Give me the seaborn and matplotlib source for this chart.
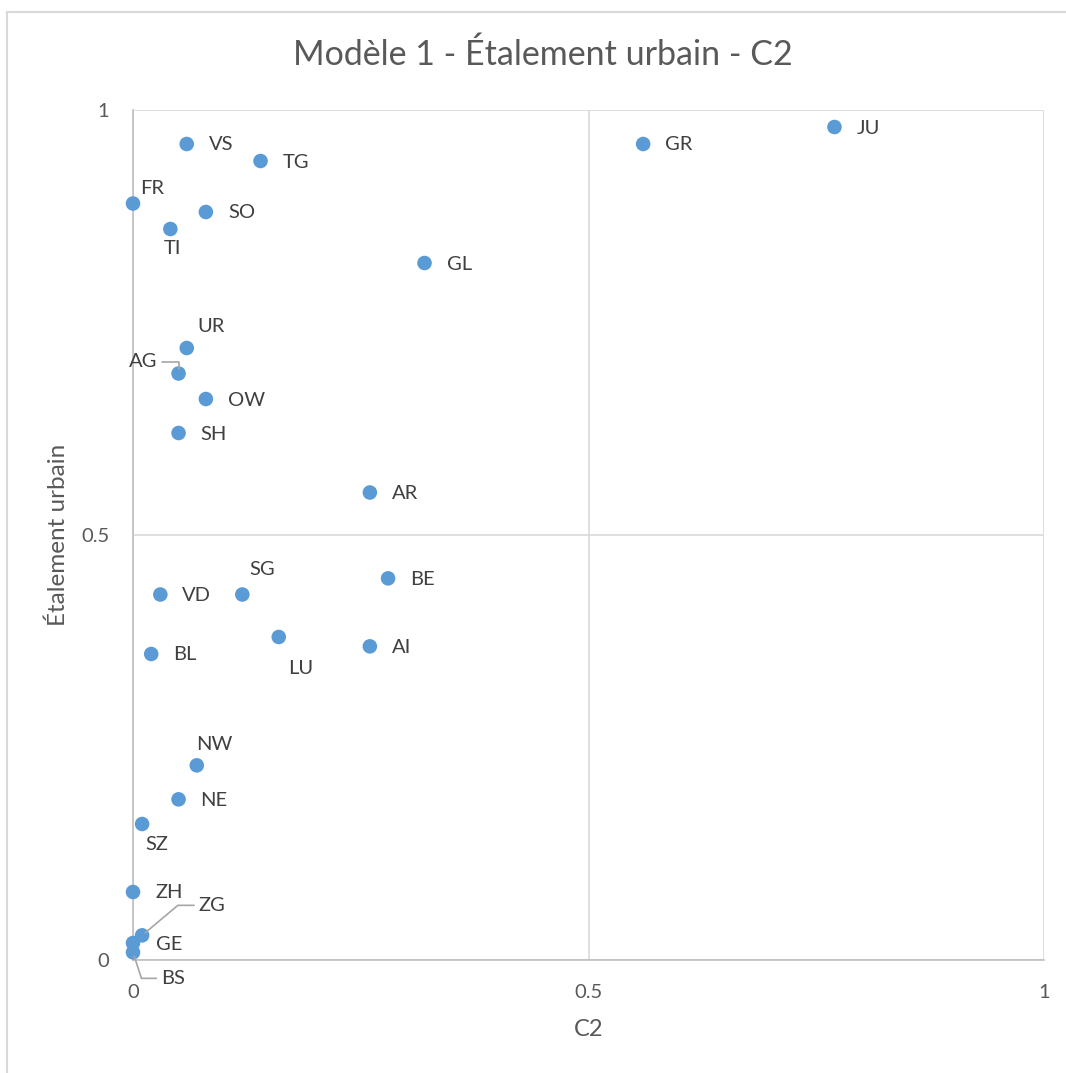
import matplotlib
matplotlib.use("Agg")
import matplotlib.pyplot as plt
import matplotlib.patches as mpatches
import seaborn as sns
import pandas as pd

# Cantons, C2 score and urban-sprawl score
cantons = ["VS", "TG", "FR", "SO", "TI", "GL", "UR", "AG", "OW", "SH", "AR",
           "GR", "JU", "BE", "VD", "SG", "LU", "AI", "BL", "NW", "NE", "SZ",
           "ZH", "ZG", "GE", "BS"]
c2 = [0.059, 0.140, 0.000, 0.080, 0.041, 0.320, 0.059, 0.050, 0.080, 0.050, 0.260,
      0.560, 0.770, 0.280, 0.030, 0.120, 0.160, 0.260, 0.020, 0.070, 0.050, 0.010,
      0.000, 0.010, 0.000, 0.000]
etalement = [0.960, 0.940, 0.890, 0.880, 0.860, 0.820, 0.720, 0.690, 0.660, 0.620, 0.550,
             0.960, 0.980, 0.449, 0.430, 0.430, 0.380, 0.369, 0.360, 0.229, 0.189, 0.160,
             0.080, 0.029, 0.020, 0.009]

x_ticks = [0, 0.5, 1]
y_ticks = [0, 0.5, 1]
x_tick_labels = ["0", "0.5", "1"]
y_tick_labels = ["0", "0.5", "1"]

df = pd.DataFrame({"canton": cantons, "C2": c2, "Étalement urbain": etalement})

sns.set_theme(style="white")
plt.rcParams["font.family"] = ["Lato", "DejaVu Sans"]

W, H = 1066, 1073
fig = plt.figure(figsize=(W / 100, H / 100), dpi=100)
ax = fig.add_axes([133 / W, (H - 960) / H, (1044 - 133) / W, (960 - 110) / H])

# chart-area frame
fig.patches.append(mpatches.Rectangle((7 / W, -0.05), 1.2, (H - 12) / H + 0.05,
                                      transform=fig.transFigure, fill=False,
                                      edgecolor="#d9d9d9", linewidth=1.5))

sns.scatterplot(data=df, x="C2", y="Étalement urbain", ax=ax, s=110,
                color="#5b9bd5", edgecolor="none", zorder=3, clip_on=False)

ax.set_xlim(0, 1)
ax.set_ylim(0, 1)
ax.set_xticks(x_ticks, x_tick_labels)
ax.set_yticks(y_ticks, y_tick_labels)
ax.tick_params(axis="both", length=0, labelsize=14.5, labelcolor="#595959")
ax.tick_params(axis="x", pad=17)
ax.tick_params(axis="y", pad=17)
ax.grid(True, color="#d9d9d9", linewidth=1.2, zorder=0)
ax.set_axisbelow(True)
for side in ["top", "right"]:
    ax.spines[side].set_visible(False)
for side in ["left", "bottom"]:
    ax.spines[side].set_color("#bfbfbf")
    ax.spines[side].set_linewidth(1.2)

ax.set_xlabel("C2", fontsize=17, color="#595959", va="center")
ax.set_ylabel("Étalement urbain", fontsize=17.5, color="#595959", va="center")
ax.xaxis.set_label_coords(0.5, -70 / 850)
ax.yaxis.set_label_coords(-75 / 911, 0.5)

fig.text(543 / W, 1 - 55 / H, "Modèle 1 - Étalement urbain - C2",
         ha="center", va="center", fontsize=24.5, color="#595959")

# label placement (pixel offsets from the marker, alignment)
right = (22, -1, "left")
placement = {
    "FR": (19, 15, "center"), "TI": (2, -20, "center"), "UR": (24, 22, "center"),
    "AG": (-35, 12, "center"), "SG": (20, 25, "center"), "LU": (22, -32, "center"),
    "NW": (18, 21, "center"), "SZ": (15, -21, "center"), "ZG": (70, 30, "center"),
    "BS": (40, -26, "center"), "GE": (23, -2, "left"),
}
leaders = {
    "AG": "angle,angleA=0,angleB=90",
    "ZG": "angle,angleA=0,angleB=40",
    "BS": "angle,angleA=0,angleB=-72",
}

for name, xv, yv in zip(cantons, c2, etalement):
    dx, dy, ha = placement.get(name, right)
    arrow = None
    if name in leaders:
        arrow = dict(arrowstyle="-", color="#a6a6a6", lw=1.2,
                     connectionstyle=leaders[name], shrinkA=1, shrinkB=3)
    ax.annotate(name, (xv, yv), xytext=(dx, dy), textcoords="offset pixels",
                ha=ha, va="center", fontsize=14.5, color="#404040",
                arrowprops=arrow, zorder=4, annotation_clip=False)

fig.savefig("out.png", dpi=100, facecolor="white")
